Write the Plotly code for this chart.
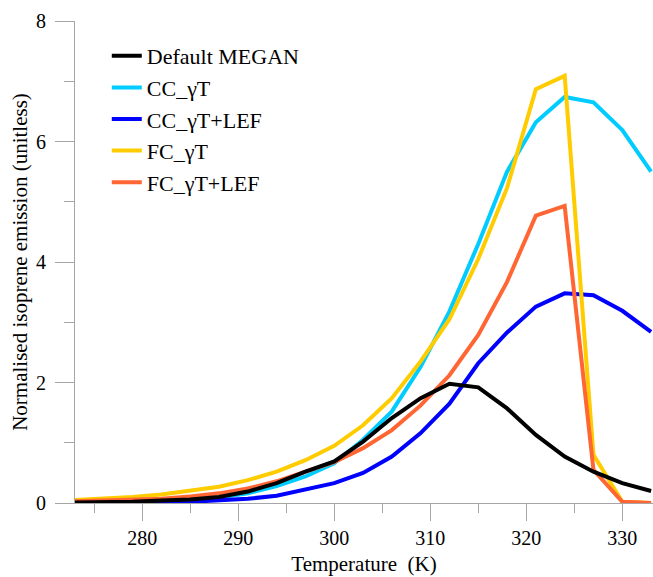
import plotly.graph_objects as go

temperature = [273, 276, 279, 282, 285, 288, 291, 294, 297, 300, 303,
               306, 309, 312, 315, 318, 321, 324, 327, 330, 333]

default_megan = [0.01, 0.01, 0.02, 0.04, 0.06, 0.10, 0.19, 0.33, 0.52, 0.69, 1.02,
                 1.41, 1.74, 1.98, 1.92, 1.57, 1.13, 0.77, 0.52, 0.33, 0.20]
cc_gt = [0.01, 0.01, 0.02, 0.03, 0.05, 0.09, 0.16, 0.28, 0.44, 0.66, 1.05,
         1.52, 2.26, 3.18, 4.30, 5.50, 6.32, 6.74, 6.65, 6.19, 5.50]
cc_gt_lef = [0.0, 0.0, 0.01, 0.01, 0.02, 0.04, 0.07, 0.12, 0.22, 0.33, 0.50,
             0.77, 1.16, 1.65, 2.32, 2.83, 3.26, 3.48, 3.45, 3.19, 2.84]
fc_gt = [0.05, 0.07, 0.10, 0.14, 0.20, 0.27, 0.38, 0.52, 0.71, 0.95, 1.29,
         1.74, 2.35, 3.05, 4.05, 5.23, 6.87, 7.09, 0.80, 0.02, 0.0]
fc_gt_lef = [0.03, 0.04, 0.05, 0.07, 0.11, 0.16, 0.24, 0.36, 0.52, 0.68, 0.91,
             1.21, 1.62, 2.12, 2.79, 3.67, 4.77, 4.93, 0.55, 0.02, 0.0]

series = [
    ("CC_γT", cc_gt, "#00CCFF", 2),
    ("CC_γT+LEF", cc_gt_lef, "#0000FF", 3),
    ("FC_γT", fc_gt, "#FFCC00", 4),
    ("FC_γT+LEF", fc_gt_lef, "#FF6633", 5),
    ("Default MEGAN", default_megan, "#000000", 1),
]

FONT = "Liberation Serif"
fig = go.Figure()
for name, vals, color, rank in series:
    fig.add_trace(go.Scatter(x=temperature, y=vals, mode="lines", name=name,
                             line=dict(color=color, width=4), legendrank=rank))

axis_color = "#A6A6A6"
fig.update_layout(
    width=653, height=577,
    margin=dict(l=75, r=0, t=21, b=74),
    plot_bgcolor="white", paper_bgcolor="white",
    font=dict(family=FONT, size=20, color="black"),
    showlegend=True,
    legend=dict(x=0.055, y=0.971, xanchor="left", yanchor="top",
                font=dict(family=FONT, size=22, color="black"),
                bgcolor="rgba(0,0,0,0)", borderwidth=0, itemwidth=30),
    xaxis=dict(range=[273, 333.2], tickvals=[280, 290, 300, 310, 320, 330],
               showgrid=False, zeroline=False, showline=True, linecolor=axis_color,
               linewidth=1, ticks="outside", ticklen=17, tickcolor=axis_color,
               minor=dict(tickvals=[275, 285, 295, 305, 315, 325], ticks="outside",
                          ticklen=9, tickcolor=axis_color),
               title=dict(text="Temperature\u00a0 (K)", font=dict(size=21), standoff=8),
               tickfont=dict(size=20)),
    yaxis=dict(range=[0, 8], tickvals=[0, 2, 4, 6, 8],
               showgrid=False, zeroline=False, showline=True, linecolor=axis_color,
               linewidth=1, ticks="outside", ticklen=19, tickcolor=axis_color,
               minor=dict(tickvals=[1, 3, 5, 7], ticks="outside",
                          ticklen=10, tickcolor=axis_color),
               title=dict(text="Normalised isoprene emission (unitless)",
                          font=dict(size=21), standoff=2),
               tickfont=dict(size=20), ticklabelstandoff=5),
)

fig.write_html("out.html",
               config={"displayModeBar": False},
               post_script="document.body.style.margin='0';"
                           "document.body.style.overflow='hidden';")
